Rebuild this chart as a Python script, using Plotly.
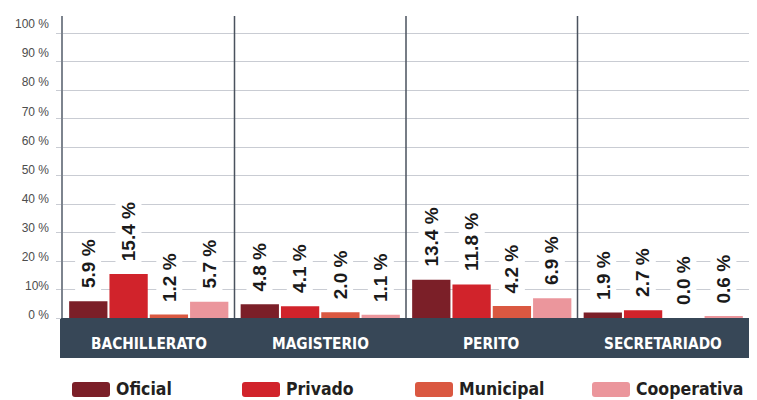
import plotly.graph_objects as go

categories = ["BACHILLERATO", "MAGISTERIO", "PERITO", "SECRETARIADO"]
series_names = ["Oficial", "Privado", "Municipal", "Cooperativa"]
oficial = [5.9, 4.8, 13.4, 1.9]
privado = [15.4, 4.1, 11.8, 2.7]
municipal = [1.2, 2.0, 4.2, 0.0]
cooperativa = [5.7, 1.1, 6.9, 0.6]
tick_values = [0, 10, 20, 30, 40, 50, 60, 70, 80, 90, 100]
tick_labels = ["0 %", "10%", "20 %", "30 %", "40 %", "50 %", "60 %", "70 %", "80 %", "90 %", "100 %"]

colors = ["#7b1f28", "#d1232b", "#da5841", "#eb969c"]
series = [oficial, privado, municipal, cooperativa]

# the page body has an 8px margin; shift the figure so it lands on the reference pixels
OFF = 8
W, H = 757 - OFF, 400 - OFF
L, R, T, B = 63, 749, 16, 318   # in screen pixels
BARGAP = 0.06
NARROW = "DejaVu Sans Condensed, Liberation Sans Narrow, Arial Narrow, sans-serif"


def px(p):
    return (p - L) / (R - L)


def py(p):
    return (B - p) / (B - T)


def rounded_rect(x0, y0, x1, y1, r):
    # x/y in screen pixels -> path in paper coordinates
    pts = [
        f"M {px(x0 + r)} {py(y0)}", f"L {px(x1 - r)} {py(y0)}", f"Q {px(x1)} {py(y0)} {px(x1)} {py(y0 + r)}",
        f"L {px(x1)} {py(y1 - r)}", f"Q {px(x1)} {py(y1)} {px(x1 - r)} {py(y1)}",
        f"L {px(x0 + r)} {py(y1)}", f"Q {px(x0)} {py(y1)} {px(x0)} {py(y1 - r)}",
        f"L {px(x0)} {py(y0 + r)}", f"Q {px(x0)} {py(y0)} {px(x0 + r)} {py(y0)}", "Z",
    ]
    return " ".join(pts)


fig = go.Figure()
for name, vals, c in zip(series_names, series, colors):
    fig.add_trace(go.Bar(x=categories, y=vals, name=name, marker=dict(color=c, line=dict(width=0)),
                         showlegend=False, hoverinfo="x+y"))

fig.add_trace(go.Scatter(x=[categories[0]], y=[None], yaxis="y2", showlegend=False, hoverinfo="skip"))

annotations = []
slot = (1 - BARGAP) / 4
for j, vals in enumerate(series):
    for i, v in enumerate(vals):
        annotations.append(dict(
            x=i + (j - 1.5) * slot, y=v, xref="x", yref="y",
            text=f"{v:.1f} %", textangle=-90, showarrow=False,
            xanchor="center", yanchor="bottom", yshift=10,
            bgcolor="white", borderpad=2,
            font=dict(family="Liberation Sans", size=19, color="#1a1a1a", weight="bold")))

for i, cat in enumerate(categories):
    annotations.append(dict(
        x=i, y=py(343.5), xref="x", yref="paper", text=f"<b>{cat}</b>", showarrow=False,
        xanchor="center", yanchor="middle",
        font=dict(family=NARROW, size=15.3, color="white")))

legend_x = [72, 242, 415, 592]
shapes = []
shapes.append(dict(type="rect", xref="paper", yref="paper", x0=px(60), x1=px(752), y0=py(318), y1=py(358),
                   fillcolor="#374757", line=dict(width=0), layer="below"))
for k in range(len(categories) - 1):
    shapes.append(dict(type="line", xref="x", yref="paper", x0=k + 0.5, x1=k + 0.5, y0=0, y1=1,
                       line=dict(color="#4a525e", width=1.5), layer="above"))
for name, c, lx in zip(series_names, colors, legend_x):
    shapes.append(dict(type="path", xref="paper", yref="paper", path=rounded_rect(lx, 382, lx + 38, 397, 3),
                       fillcolor=c, line=dict(width=0)))
    annotations.append(dict(x=px(lx + 42), y=py(388.5), xref="paper", yref="paper", text=f"<b>{name}</b>",
                            showarrow=False, xanchor="left", yanchor="middle",
                            font=dict(family=NARROW, size=17.5, color="#231f20")))

fig.update_layout(
    width=W, height=H,
    margin=dict(l=L - OFF, r=757 - R, t=T - OFF, b=400 - B, pad=0),
    paper_bgcolor="white", plot_bgcolor="white",
    barmode="group", bargap=BARGAP, bargroupgap=0.05,
    showlegend=False,
    xaxis=dict(showticklabels=False, showgrid=False, zeroline=False, showline=False, ticks="",
               range=[-0.5, len(categories) - 0.5]),
    yaxis=dict(range=[0, 106], tickvals=tick_values, showticklabels=False, showgrid=True,
               gridcolor="#c9ccd3", gridwidth=1, zeroline=False, ticks="outside", ticklen=5,
               tickcolor="#c9ccd3", showline=True, linecolor="#7d848e", linewidth=1.5),
    yaxis2=dict(overlaying="y", side="left", range=[-1.03, 102.79], tickvals=tick_values,
                ticktext=tick_labels, showgrid=False, zeroline=False, showline=False, ticks="",
                ticklabelstandoff=13,
                tickfont=dict(family="Liberation Sans", size=12, color="#4d4d4d")),
    shapes=shapes,
    annotations=annotations,
)

fig.write_html("out.html")
